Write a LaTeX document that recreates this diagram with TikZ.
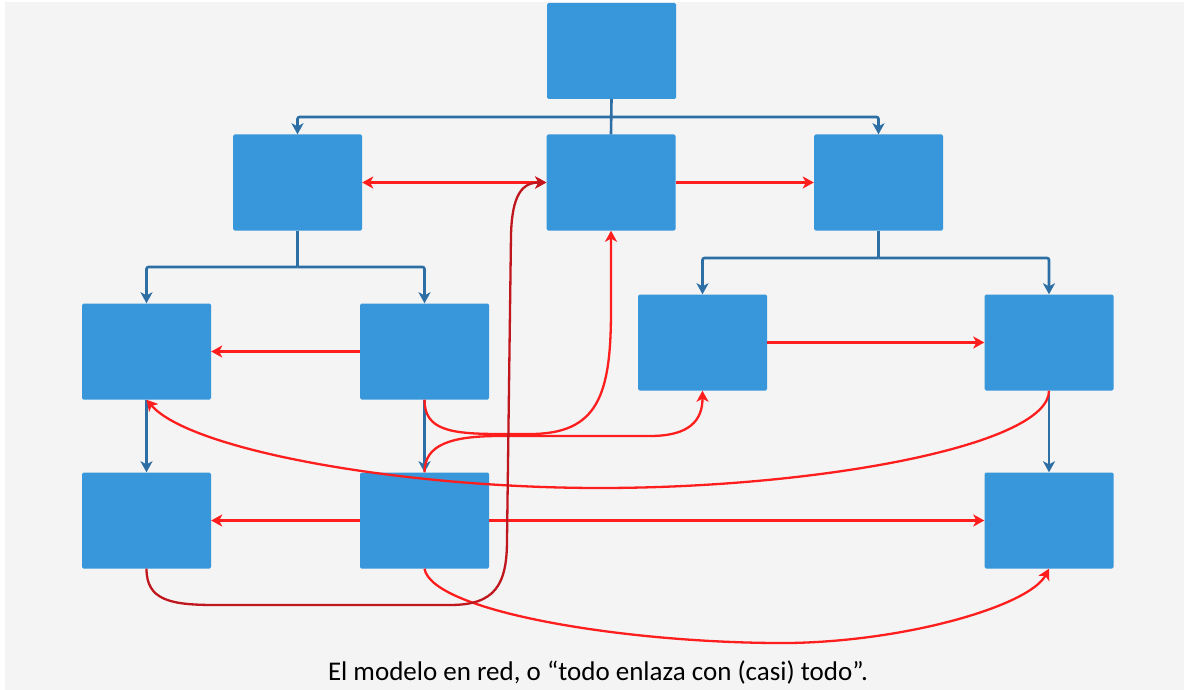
\documentclass[tikz,border=0pt]{standalone}
\usepackage{fontspec}
\setmainfont{Carlito}
\usetikzlibrary{arrows.meta}
\definecolor{pagebg}{HTML}{F4F4F4}
\definecolor{boxblue}{HTML}{3797DA}
\definecolor{treeblue}{HTML}{2D6FA5}
\definecolor{linkred}{HTML}{FF1E1E}
\definecolor{deepred}{HTML}{C0161E}
\tikzset{
  unit/.style={rectangle, fill=boxblue, draw=none, rounded corners=1.5pt,
    minimum width=129pt, minimum height=96pt, inner sep=0pt},
  treeline/.style={draw=treeblue, line width=2.6pt, rounded corners=2pt},
  treearrow/.style={treeline, -{Stealth[length=11pt,width=12pt,inset=3pt]}},
  redlink/.style={draw=linkred, line width=2.3pt,
    -{Stealth[length=11pt,width=12pt,inset=3pt]}},
  redboth/.style={redlink, {Stealth[length=11pt,width=12pt,inset=3pt]}-{Stealth[length=11pt,width=12pt,inset=3pt]}},
  darklink/.style={redlink, draw=deepred},
}
\begin{document}
\begin{tikzpicture}[x=1pt,y=-1pt]
  % canvas
  \useasboundingbox (0,0) rectangle (1184,690);
  \fill[white] (0,0) rectangle (1184,690);
  \fill[pagebg] (5,2) rectangle (1184,690);

  % boxes
  \node[unit] (T)   at (611.5,51)    {};
  \node[unit] (L1)  at (297.5,182.5) {};
  \node[unit] (M)   at (611,182.5)   {};
  \node[unit] (R1)  at (878.5,182.5) {};
  \node[unit] (B21) at (146.5,351.5) {};
  \node[unit] (B22) at (424.5,351.5) {};
  \node[unit] (R21) at (702.5,342.5) {};
  \node[unit] (R22) at (1049,342.5)  {};
  \node[unit] (B31) at (146.5,520.5) {};
  \node[unit] (B32) at (424.5,520.5) {};
  \node[unit] (R3)  at (1049,520.5)  {};

  % tree junctions
  \coordinate (j0) at (611.5,117);
  \coordinate (j1) at (297.5,267);
  \coordinate (j2) at (878.5,258);

  % hierarchy (blue)
  \draw[treeline] (T.south) -- (M.north);
  \draw[treearrow] (j0) -| (L1.north);
  \draw[treearrow] (j0) -| (R1.north);
  \draw[treeline] (L1.south) -- (j1);
  \draw[treearrow] (j1) -| (B21.north);
  \draw[treearrow] (j1) -| (B22.north);
  \draw[treeline] (R1.south) -- (j2);
  \draw[treearrow] (j2) -| (R21.north);
  \draw[treearrow] (j2) -| (R22.north);
  \draw[treearrow] (B21.south) -- (B31.north);
  \draw[treearrow] (B22.south) -- (B32.north);
  \draw[treearrow] (R22.south) -- (R3.north);

  % straight cross links (red)
  \draw[redboth] (L1.east) -- (M.west);
  \draw[redlink] (M.east) -- (R1.west);
  \draw[redlink] (B22.west) -- (B21.east);
  \draw[redlink] (R21.east) -- (R22.west);
  \draw[redlink] (B32.west) -- (B31.east);
  \draw[redlink] (B32.east) -- (R3.west);

  % curved cross links (red)
  \draw[redlink] (B22.south) .. controls (424.5,430) and (450,434) .. (500,434)
    -- (530,434) .. controls (598,434) and (611,395) .. (611,310) -- (M.south);
  \draw[redlink] (B32.north) .. controls (424.5,445) and (450,436) .. (500,436)
    -- (650,436) .. controls (690,436) and (702.5,420) .. (R21.south);
  \draw[redlink] (R22.south) .. controls (1049,445) and (820,488) .. (600,488)
    .. controls (400,488) and (190,450) .. (B21.south);
  \draw[redlink] (B32.south) .. controls (432,612) and (630,644) .. (790,643)
    .. controls (910,641) and (1030,605) .. (R3.south);
  \draw[darklink] (B31.south) .. controls (146.5,600) and (170,605) .. (215,605)
    -- (450,605) .. controls (495,605) and (507,585) .. (507,540)
    -- (511,235) .. controls (512,195) and (522,182.5) .. (M.west);

  % caption
  \node[anchor=base, inner sep=0pt, font=\fontsize{27}{32}\selectfont] (caption)
    at (598,680) {El modelo en red, o “todo enlaza con (casi) todo”.};
\end{tikzpicture}
\end{document}
